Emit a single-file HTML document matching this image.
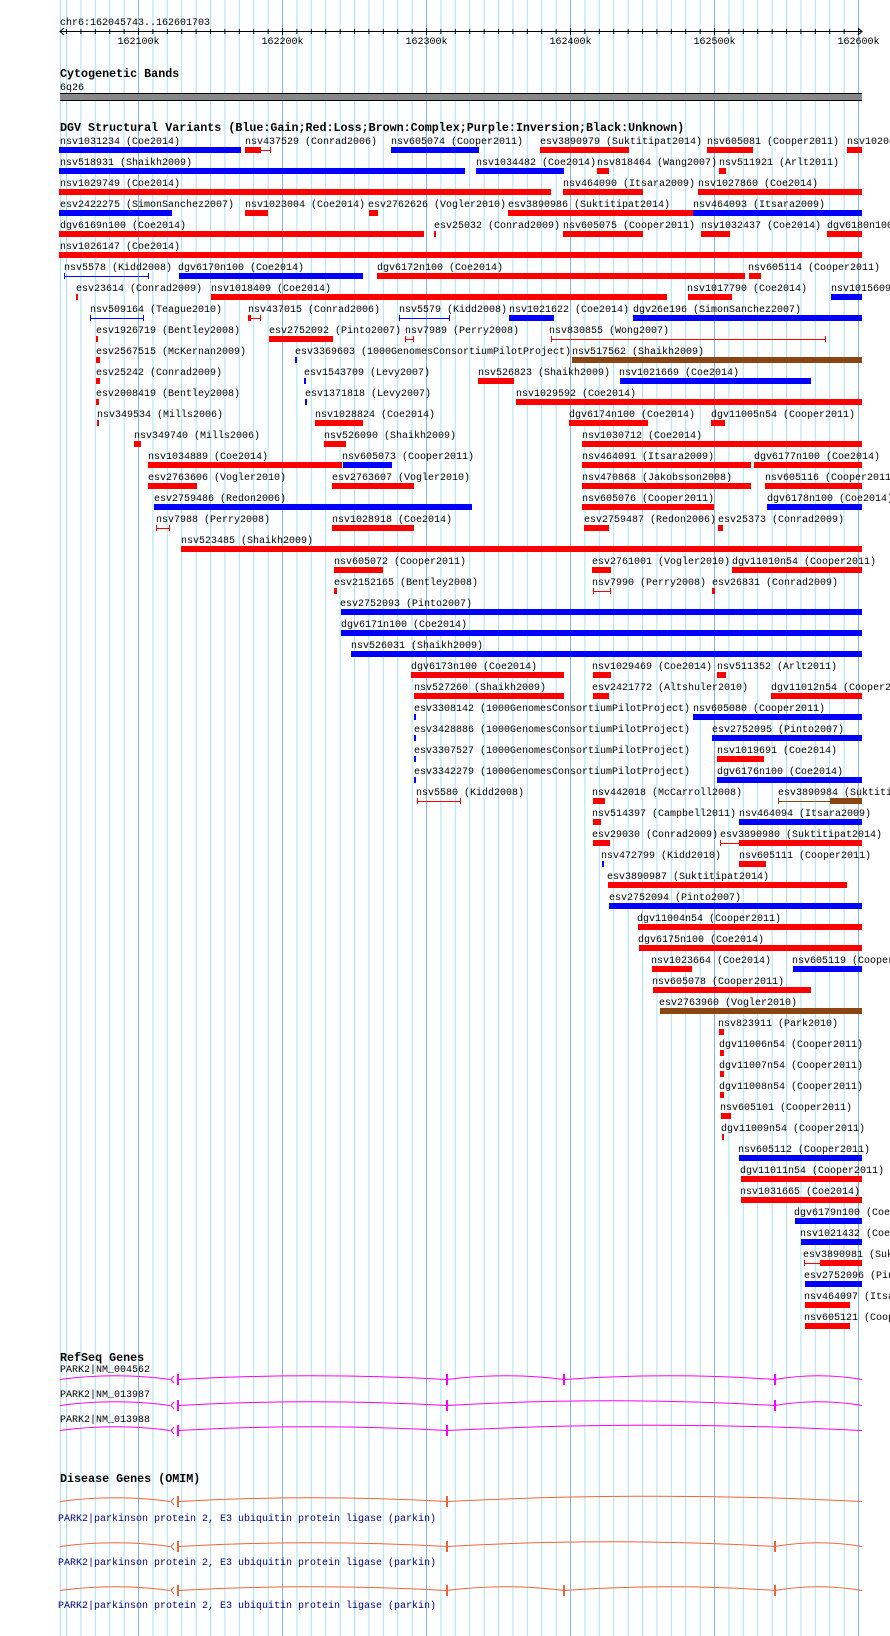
<!DOCTYPE html>
<html><head><meta charset="utf-8"><style>
html,body{margin:0;padding:0;background:#fff;}
svg{display:block;}
</style></head><body>
<svg width="890" height="1636" viewBox="0 0 890 1636" xmlns="http://www.w3.org/2000/svg">
<rect width="890" height="1636" fill="#fff"/>
<!-- grid -->
<g stroke="#a6e4ee" stroke-width="1">
<line x1="60.5" y1="0" x2="60.5" y2="1636"/>
<line x1="66.5" y1="0" x2="66.5" y2="1636"/><line x1="80.9" y1="0" x2="80.9" y2="1636"/><line x1="95.3" y1="0" x2="95.3" y2="1636"/><line x1="109.7" y1="0" x2="109.7" y2="1636"/><line x1="124.1" y1="0" x2="124.1" y2="1636"/>
<line x1="152.9" y1="0" x2="152.9" y2="1636"/><line x1="167.3" y1="0" x2="167.3" y2="1636"/><line x1="181.7" y1="0" x2="181.7" y2="1636"/><line x1="196.1" y1="0" x2="196.1" y2="1636"/><line x1="210.5" y1="0" x2="210.5" y2="1636"/><line x1="224.9" y1="0" x2="224.9" y2="1636"/><line x1="239.3" y1="0" x2="239.3" y2="1636"/><line x1="253.7" y1="0" x2="253.7" y2="1636"/><line x1="268.1" y1="0" x2="268.1" y2="1636"/>
<line x1="296.9" y1="0" x2="296.9" y2="1636"/><line x1="311.3" y1="0" x2="311.3" y2="1636"/><line x1="325.7" y1="0" x2="325.7" y2="1636"/><line x1="340.1" y1="0" x2="340.1" y2="1636"/><line x1="354.5" y1="0" x2="354.5" y2="1636"/><line x1="368.9" y1="0" x2="368.9" y2="1636"/><line x1="383.3" y1="0" x2="383.3" y2="1636"/><line x1="397.7" y1="0" x2="397.7" y2="1636"/><line x1="412.1" y1="0" x2="412.1" y2="1636"/>
<line x1="440.9" y1="0" x2="440.9" y2="1636"/><line x1="455.3" y1="0" x2="455.3" y2="1636"/><line x1="469.7" y1="0" x2="469.7" y2="1636"/><line x1="484.1" y1="0" x2="484.1" y2="1636"/><line x1="498.5" y1="0" x2="498.5" y2="1636"/><line x1="512.9" y1="0" x2="512.9" y2="1636"/><line x1="527.3" y1="0" x2="527.3" y2="1636"/><line x1="541.7" y1="0" x2="541.7" y2="1636"/><line x1="556.1" y1="0" x2="556.1" y2="1636"/>
<line x1="584.9" y1="0" x2="584.9" y2="1636"/><line x1="599.3" y1="0" x2="599.3" y2="1636"/><line x1="613.7" y1="0" x2="613.7" y2="1636"/><line x1="628.1" y1="0" x2="628.1" y2="1636"/><line x1="642.5" y1="0" x2="642.5" y2="1636"/><line x1="656.9" y1="0" x2="656.9" y2="1636"/><line x1="671.3" y1="0" x2="671.3" y2="1636"/><line x1="685.7" y1="0" x2="685.7" y2="1636"/><line x1="700.1" y1="0" x2="700.1" y2="1636"/>
<line x1="728.9" y1="0" x2="728.9" y2="1636"/><line x1="743.3" y1="0" x2="743.3" y2="1636"/><line x1="757.7" y1="0" x2="757.7" y2="1636"/><line x1="772.1" y1="0" x2="772.1" y2="1636"/><line x1="786.5" y1="0" x2="786.5" y2="1636"/><line x1="800.9" y1="0" x2="800.9" y2="1636"/><line x1="815.3" y1="0" x2="815.3" y2="1636"/><line x1="829.7" y1="0" x2="829.7" y2="1636"/><line x1="844.1" y1="0" x2="844.1" y2="1636"/>
</g>
<g stroke="#7fb6e6" stroke-width="1">
<line x1="138.5" y1="0" x2="138.5" y2="1636"/><line x1="282.5" y1="0" x2="282.5" y2="1636"/><line x1="426.5" y1="0" x2="426.5" y2="1636"/><line x1="570.5" y1="0" x2="570.5" y2="1636"/><line x1="714.5" y1="0" x2="714.5" y2="1636"/><line x1="858.5" y1="0" x2="858.5" y2="1636"/>
</g>

<!-- ruler -->
<g font-family="Liberation Mono, monospace" font-size="10" fill="#000">
<text x="60" y="25">chr6:162045743..162601703</text>
<line x1="60" y1="31.5" x2="862" y2="31.5" stroke="#000"/>
<polyline points="64,28 60,31.5 64,35" fill="none" stroke="#000"/>
<polyline points="858,28 862,31.5 858,35" fill="none" stroke="#000"/>
<g stroke="#000">
<line x1="66.5" y1="29" x2="66.5" y2="34"/><line x1="80.9" y1="29" x2="80.9" y2="34"/><line x1="95.3" y1="29" x2="95.3" y2="34"/><line x1="109.7" y1="29" x2="109.7" y2="34"/><line x1="124.1" y1="29" x2="124.1" y2="34"/><line x1="138.5" y1="28" x2="138.5" y2="35"/>
<line x1="152.9" y1="29" x2="152.9" y2="34"/><line x1="167.3" y1="29" x2="167.3" y2="34"/><line x1="181.7" y1="29" x2="181.7" y2="34"/><line x1="196.1" y1="29" x2="196.1" y2="34"/><line x1="210.5" y1="29" x2="210.5" y2="34"/><line x1="224.9" y1="29" x2="224.9" y2="34"/><line x1="239.3" y1="29" x2="239.3" y2="34"/><line x1="253.7" y1="29" x2="253.7" y2="34"/><line x1="268.1" y1="29" x2="268.1" y2="34"/><line x1="282.5" y1="28" x2="282.5" y2="35"/>
<line x1="296.9" y1="29" x2="296.9" y2="34"/><line x1="311.3" y1="29" x2="311.3" y2="34"/><line x1="325.7" y1="29" x2="325.7" y2="34"/><line x1="340.1" y1="29" x2="340.1" y2="34"/><line x1="354.5" y1="29" x2="354.5" y2="34"/><line x1="368.9" y1="29" x2="368.9" y2="34"/><line x1="383.3" y1="29" x2="383.3" y2="34"/><line x1="397.7" y1="29" x2="397.7" y2="34"/><line x1="412.1" y1="29" x2="412.1" y2="34"/><line x1="426.5" y1="28" x2="426.5" y2="35"/>
<line x1="440.9" y1="29" x2="440.9" y2="34"/><line x1="455.3" y1="29" x2="455.3" y2="34"/><line x1="469.7" y1="29" x2="469.7" y2="34"/><line x1="484.1" y1="29" x2="484.1" y2="34"/><line x1="498.5" y1="29" x2="498.5" y2="34"/><line x1="512.9" y1="29" x2="512.9" y2="34"/><line x1="527.3" y1="29" x2="527.3" y2="34"/><line x1="541.7" y1="29" x2="541.7" y2="34"/><line x1="556.1" y1="29" x2="556.1" y2="34"/><line x1="570.5" y1="28" x2="570.5" y2="35"/>
<line x1="584.9" y1="29" x2="584.9" y2="34"/><line x1="599.3" y1="29" x2="599.3" y2="34"/><line x1="613.7" y1="29" x2="613.7" y2="34"/><line x1="628.1" y1="29" x2="628.1" y2="34"/><line x1="642.5" y1="29" x2="642.5" y2="34"/><line x1="656.9" y1="29" x2="656.9" y2="34"/><line x1="671.3" y1="29" x2="671.3" y2="34"/><line x1="685.7" y1="29" x2="685.7" y2="34"/><line x1="700.1" y1="29" x2="700.1" y2="34"/><line x1="714.5" y1="28" x2="714.5" y2="35"/>
<line x1="728.9" y1="29" x2="728.9" y2="34"/><line x1="743.3" y1="29" x2="743.3" y2="34"/><line x1="757.7" y1="29" x2="757.7" y2="34"/><line x1="772.1" y1="29" x2="772.1" y2="34"/><line x1="786.5" y1="29" x2="786.5" y2="34"/><line x1="800.9" y1="29" x2="800.9" y2="34"/><line x1="815.3" y1="29" x2="815.3" y2="34"/><line x1="829.7" y1="29" x2="829.7" y2="34"/><line x1="844.1" y1="29" x2="844.1" y2="34"/><line x1="858.5" y1="28" x2="858.5" y2="35"/>
</g>
<text x="138.5" y="44" text-anchor="middle">162100k</text>
<text x="282.5" y="44" text-anchor="middle">162200k</text>
<text x="426.5" y="44" text-anchor="middle">162300k</text>
<text x="570.5" y="44" text-anchor="middle">162400k</text>
<text x="714.5" y="44" text-anchor="middle">162500k</text>
<text x="858.5" y="44" text-anchor="middle">162600k</text>
</g>

<!-- cytoband -->
<g font-family="Liberation Mono, monospace" font-weight="bold" font-size="11.7" fill="#000">
<text x="60" y="77">Cytogenetic Bands</text>
<text x="60" y="131">DGV Structural Variants (Blue:Gain;Red:Loss;Brown:Complex;Purple:Inversion;Black:Unknown)</text>
<text x="60" y="1361">RefSeq Genes</text>
<text x="60" y="1482">Disease Genes (OMIM)</text>
</g>
<text x="60" y="90" font-family="Liberation Mono, monospace" font-size="10">6q26</text>
<rect x="60" y="93" width="802" height="8" fill="#000"/>
<rect x="60" y="94" width="802" height="6" fill="#888"/>

<!-- SV labels -->
<g font-family="Liberation Mono, monospace" font-size="10" fill="#000">
<text x="60" y="144">nsv1031234 (Coe2014)</text><text x="245" y="144">nsv437529 (Conrad2006)</text><text x="391" y="144">nsv605074 (Cooper2011)</text><text x="540" y="144">esv3890979 (Suktitipat2014)</text><text x="707" y="144">nsv605081 (Cooper2011)</text><text x="847" y="144">nsv1020839 (Coe2014)</text>
<text x="60" y="165">nsv518931 (Shaikh2009)</text><text x="476" y="165">nsv1034482 (Coe2014)</text><text x="597" y="165">nsv818464 (Wang2007)</text><text x="719" y="165">nsv511921 (Arlt2011)</text>
<text x="60" y="186">nsv1029749 (Coe2014)</text><text x="563" y="186">nsv464090 (Itsara2009)</text><text x="698" y="186">nsv1027860 (Coe2014)</text>
<text x="60" y="207">esv2422275 (SimonSanchez2007)</text><text x="245" y="207">nsv1023004 (Coe2014)</text><text x="368" y="207">esv2762626 (Vogler2010)</text><text x="508" y="207">esv3890986 (Suktitipat2014)</text><text x="693" y="207">nsv464093 (Itsara2009)</text>
<text x="60" y="228">dgv6169n100 (Coe2014)</text><text x="434" y="228">esv25032 (Conrad2009)</text><text x="563" y="228">nsv605075 (Cooper2011)</text><text x="701" y="228">nsv1032437 (Coe2014)</text><text x="827" y="228">dgv6180n100 (Coe2014)</text>
<text x="60" y="249">nsv1026147 (Coe2014)</text>
<text x="64" y="270">nsv5578 (Kidd2008)</text><text x="178" y="270">dgv6170n100 (Coe2014)</text><text x="377" y="270">dgv6172n100 (Coe2014)</text><text x="748" y="270">nsv605114 (Cooper2011)</text>
<text x="76" y="291">esv23614 (Conrad2009)</text><text x="211" y="291">nsv1018409 (Coe2014)</text><text x="687" y="291">nsv1017790 (Coe2014)</text><text x="831" y="291">nsv1015609 (Coe2014)</text>
<text x="90" y="312">nsv509164 (Teague2010)</text><text x="248" y="312">nsv437015 (Conrad2006)</text><text x="399" y="312">nsv5579 (Kidd2008)</text><text x="509" y="312">nsv1021622 (Coe2014)</text><text x="633" y="312">dgv26e196 (SimonSanchez2007)</text>
<text x="96" y="333">esv1926719 (Bentley2008)</text><text x="269" y="333">esv2752092 (Pinto2007)</text><text x="405" y="333">nsv7989 (Perry2008)</text><text x="549" y="333">nsv830855 (Wong2007)</text>
<text x="96" y="354">esv2567515 (McKernan2009)</text><text x="295" y="354">esv3369603 (1000GenomesConsortiumPilotProject)</text><text x="572" y="354">nsv517562 (Shaikh2009)</text>
<text x="96" y="375">esv25242 (Conrad2009)</text><text x="304" y="375">esv1543709 (Levy2007)</text><text x="478" y="375">nsv526823 (Shaikh2009)</text><text x="619" y="375">nsv1021669 (Coe2014)</text>
<text x="96" y="396">esv2008419 (Bentley2008)</text><text x="305" y="396">esv1371818 (Levy2007)</text><text x="516" y="396">nsv1029592 (Coe2014)</text>
<text x="97" y="417">nsv349534 (Mills2006)</text><text x="315" y="417">nsv1028824 (Coe2014)</text><text x="569" y="417">dgv6174n100 (Coe2014)</text><text x="711" y="417">dgv11005n54 (Cooper2011)</text>
<text x="134" y="438">nsv349740 (Mills2006)</text><text x="324" y="438">nsv526090 (Shaikh2009)</text><text x="582" y="438">nsv1030712 (Coe2014)</text>
<text x="148" y="459">nsv1034889 (Coe2014)</text><text x="342" y="459">nsv605073 (Cooper2011)</text><text x="582" y="459">nsv464091 (Itsara2009)</text><text x="754" y="459">dgv6177n100 (Coe2014)</text>
<text x="148" y="480">esv2763606 (Vogler2010)</text><text x="332" y="480">esv2763607 (Vogler2010)</text><text x="582" y="480">nsv470868 (Jakobsson2008)</text><text x="765" y="480">nsv605116 (Cooper2011)</text>
<text x="154" y="501">esv2759486 (Redon2006)</text><text x="582" y="501">nsv605076 (Cooper2011)</text><text x="767" y="501">dgv6178n100 (Coe2014)</text>
<text x="156" y="522">nsv7988 (Perry2008)</text><text x="332" y="522">nsv1028918 (Coe2014)</text><text x="584" y="522">esv2759487 (Redon2006)</text><text x="718" y="522">esv25373 (Conrad2009)</text>
<text x="181" y="543">nsv523485 (Shaikh2009)</text>
<text x="334" y="564">nsv605072 (Cooper2011)</text><text x="592" y="564">esv2761001 (Vogler2010)</text><text x="732" y="564">dgv11010n54 (Cooper2011)</text>
<text x="334" y="585">esv2152165 (Bentley2008)</text><text x="592" y="585">nsv7990 (Perry2008)</text><text x="712" y="585">esv26831 (Conrad2009)</text>
<text x="340" y="606">esv2752093 (Pinto2007)</text>
<text x="341" y="627">dgv6171n100 (Coe2014)</text>
<text x="351" y="648">nsv526031 (Shaikh2009)</text>
<text x="411" y="669">dgv6173n100 (Coe2014)</text><text x="592" y="669">nsv1029469 (Coe2014)</text><text x="717" y="669">nsv511352 (Arlt2011)</text>
<text x="414" y="690">nsv527260 (Shaikh2009)</text><text x="592" y="690">esv2421772 (Altshuler2010)</text><text x="771" y="690">dgv11012n54 (Cooper2011)</text>
<text x="414" y="711">esv3308142 (1000GenomesConsortiumPilotProject)</text><text x="693" y="711">nsv605080 (Cooper2011)</text>
<text x="414" y="732">esv3428886 (1000GenomesConsortiumPilotProject)</text><text x="712" y="732">esv2752095 (Pinto2007)</text>
<text x="414" y="753">esv3307527 (1000GenomesConsortiumPilotProject)</text><text x="717" y="753">nsv1019691 (Coe2014)</text>
<text x="414" y="774">esv3342279 (1000GenomesConsortiumPilotProject)</text><text x="717" y="774">dgv6176n100 (Coe2014)</text>
<text x="416" y="795">nsv5580 (Kidd2008)</text><text x="592" y="795">nsv442018 (McCarroll2008)</text><text x="778" y="795">esv3890984 (Suktitipat2014)</text>
<text x="592" y="816">nsv514397 (Campbell2011)</text><text x="739" y="816">nsv464094 (Itsara2009)</text>
<text x="592" y="837">esv29030 (Conrad2009)</text><text x="720" y="837">esv3890980 (Suktitipat2014)</text>
<text x="601" y="858">nsv472799 (Kidd2010)</text><text x="739" y="858">nsv605111 (Cooper2011)</text>
<text x="607" y="879">esv3890987 (Suktitipat2014)</text>
<text x="609" y="900">esv2752094 (Pinto2007)</text>
<text x="637" y="921">dgv11004n54 (Cooper2011)</text>
<text x="638" y="942">dgv6175n100 (Coe2014)</text>
<text x="651" y="963">nsv1023664 (Coe2014)</text><text x="792" y="963">nsv605119 (Cooper2011)</text>
<text x="652" y="984">nsv605078 (Cooper2011)</text>
<text x="659" y="1005">esv2763960 (Vogler2010)</text>
<text x="718" y="1026">nsv823911 (Park2010)</text>
<text x="719" y="1047">dgv11006n54 (Cooper2011)</text>
<text x="719" y="1068">dgv11007n54 (Cooper2011)</text>
<text x="719" y="1089">dgv11008n54 (Cooper2011)</text>
<text x="720" y="1110">nsv605101 (Cooper2011)</text>
<text x="721" y="1131">dgv11009n54 (Cooper2011)</text>
<text x="738" y="1152">nsv605112 (Cooper2011)</text>
<text x="740" y="1173">dgv11011n54 (Cooper2011)</text>
<text x="740" y="1194">nsv1031665 (Coe2014)</text>
<text x="794" y="1215">dgv6179n100 (Coe2014)</text>
<text x="800" y="1236">nsv1021432 (Coe2014)</text>
<text x="803" y="1257">esv3890981 (Suktitipat2014)</text>
<text x="804" y="1278">esv2752096 (Pinto2007)</text>
<text x="804" y="1299">nsv464097 (Itsara2009)</text>
<text x="804" y="1320">nsv605121 (Cooper2011)</text>
</g>

<!-- SV bars: blue -->
<g fill="#0000ff">
<rect x="59" y="147" width="182" height="6"/><rect x="391" y="147" width="88" height="6"/>
<rect x="59" y="168" width="406" height="6"/><rect x="476" y="168" width="88" height="6"/>
<rect x="59" y="210" width="113" height="6"/><rect x="693" y="210" width="169" height="6"/>
<rect x="179" y="273" width="184" height="6"/>
<rect x="831" y="294" width="31" height="6"/>
<rect x="509" y="315" width="45" height="6"/><rect x="633" y="315" width="229" height="6"/>
<rect x="295" y="357" width="2" height="6"/>
<rect x="304" y="378" width="2" height="6"/><rect x="620" y="378" width="191" height="6"/>
<rect x="305" y="399" width="2" height="6"/>
<rect x="343" y="462" width="49" height="6"/>
<rect x="154" y="504" width="318" height="6"/><rect x="767" y="504" width="95" height="6"/>
<rect x="341" y="609" width="521" height="6"/>
<rect x="341" y="630" width="521" height="6"/>
<rect x="351" y="651" width="511" height="6"/>
<rect x="414" y="714" width="2" height="6"/><rect x="693" y="714" width="169" height="6"/>
<rect x="414" y="735" width="2" height="6"/><rect x="712" y="735" width="150" height="6"/>
<rect x="414" y="756" width="2" height="6"/>
<rect x="414" y="777" width="2" height="6"/><rect x="717" y="777" width="145" height="6"/>
<rect x="739" y="819" width="123" height="6"/>
<rect x="602" y="861" width="2" height="6"/>
<rect x="609" y="903" width="253" height="6"/>
<rect x="793" y="966" width="69" height="6"/>
<rect x="739" y="1155" width="123" height="6"/>
<rect x="795" y="1218" width="67" height="6"/>
<rect x="801" y="1239" width="61" height="6"/>
<rect x="805" y="1281" width="57" height="6"/>
</g>
<!-- blue whiskers -->
<g stroke="#0000ff" stroke-width="1" fill="none">
<path d="M64 276.5H149M64.5 273v6M148.5 273v6"/>
<path d="M90 318.5H144M90.5 315v6M143.5 315v6"/>
<path d="M399 318.5H450M399.5 315v6M449.5 315v6"/>
</g>
<!-- red bars -->
<g fill="#ff0000">
<rect x="245" y="147" width="16" height="6"/><rect x="540" y="147" width="89" height="6"/><rect x="707" y="147" width="46" height="6"/><rect x="847" y="147" width="15" height="6"/>
<rect x="597" y="168" width="12" height="6"/><rect x="719" y="168" width="7" height="6"/>
<rect x="59" y="189" width="492" height="6"/><rect x="563" y="189" width="80" height="6"/><rect x="698" y="189" width="164" height="6"/>
<rect x="245" y="210" width="23" height="6"/><rect x="369" y="210" width="9" height="6"/><rect x="508" y="210" width="185" height="6"/>
<rect x="59" y="231" width="365" height="6"/><rect x="434" y="231" width="2" height="6"/><rect x="563" y="231" width="80" height="6"/><rect x="701" y="231" width="29" height="6"/><rect x="827" y="231" width="35" height="6"/>
<rect x="59" y="252" width="803" height="6"/>
<rect x="377" y="273" width="368" height="6"/><rect x="749" y="273" width="12" height="6"/>
<rect x="76" y="294" width="2" height="6"/><rect x="211" y="294" width="456" height="6"/><rect x="688" y="294" width="44" height="6"/>
<rect x="248" y="315" width="3" height="6"/>
<rect x="96" y="336" width="2" height="6"/><rect x="269" y="336" width="64" height="6"/>
<rect x="96" y="357" width="4" height="6"/><rect x="96" y="378" width="4" height="6"/><rect x="478" y="378" width="36" height="6"/>
<rect x="96" y="399" width="3" height="6"/><rect x="516" y="399" width="346" height="6"/>
<rect x="97" y="420" width="2" height="6"/><rect x="315" y="420" width="48" height="6"/><rect x="569" y="420" width="79" height="6"/><rect x="711" y="420" width="14" height="6"/>
<rect x="134" y="441" width="7" height="6"/><rect x="324" y="441" width="22" height="6"/><rect x="582" y="441" width="280" height="6"/>
<rect x="148" y="462" width="194" height="6"/><rect x="582" y="462" width="169" height="6"/><rect x="754" y="462" width="108" height="6"/>
<rect x="148" y="483" width="49" height="6"/><rect x="332" y="483" width="82" height="6"/><rect x="582" y="483" width="169" height="6"/><rect x="765" y="483" width="97" height="6"/>
<rect x="582" y="504" width="132" height="6"/>
<rect x="332" y="525" width="82" height="6"/><rect x="584" y="525" width="25" height="6"/><rect x="718" y="525" width="5" height="6"/>
<rect x="181" y="546" width="681" height="6"/>
<rect x="334" y="567" width="49" height="6"/><rect x="592" y="567" width="19" height="6"/><rect x="732" y="567" width="130" height="6"/>
<rect x="334" y="588" width="3" height="6"/><rect x="712" y="588" width="3" height="6"/>
<rect x="411" y="672" width="153" height="6"/><rect x="593" y="672" width="18" height="6"/><rect x="717" y="672" width="9" height="6"/>
<rect x="414" y="693" width="150" height="6"/><rect x="593" y="693" width="16" height="6"/><rect x="771" y="693" width="91" height="6"/>
<rect x="717" y="756" width="47" height="6"/>
<rect x="593" y="798" width="12" height="6"/>
<rect x="593" y="819" width="8" height="6"/>
<rect x="593" y="840" width="17" height="6"/><rect x="739" y="840" width="123" height="6"/>
<rect x="739" y="861" width="27" height="6"/>
<rect x="608" y="882" width="239" height="6"/>
<rect x="638" y="924" width="224" height="6"/>
<rect x="639" y="945" width="223" height="6"/>
<rect x="652" y="966" width="40" height="6"/>
<rect x="653" y="987" width="158" height="6"/>
<rect x="719" y="1029" width="5" height="6"/>
<rect x="720" y="1050" width="4" height="6"/>
<rect x="720" y="1071" width="4" height="6"/>
<rect x="720" y="1092" width="4" height="6"/>
<rect x="721" y="1113" width="10" height="6"/>
<rect x="722" y="1134" width="2" height="6"/>
<rect x="741" y="1176" width="121" height="6"/>
<rect x="741" y="1197" width="121" height="6"/>
<rect x="820" y="1260" width="42" height="6"/>
<rect x="805" y="1302" width="45" height="6"/>
<rect x="805" y="1323" width="45" height="6"/>
</g>
<!-- red whiskers -->
<g stroke="#ff0000" stroke-width="1" fill="none">
<path d="M261 150.5H271M270.5 147v6"/>
<path d="M251 318.5H261M260.5 315v6"/>
<path d="M405 339.5H414M405.5 336v6M413.5 336v6"/>
<path d="M551 339.5H826M551.5 336v6M825.5 336v6"/>
<path d="M156 528.5H170M156.5 525v6M169.5 525v6"/>
<path d="M593 591.5H611M593.5 588v6M610.5 588v6"/>
<path d="M417 801.5H461M417.5 798v6M460.5 798v6"/>
<path d="M720 843.5H739M720.5 840v6"/>
<path d="M804 1263.5H820M804.5 1260v6"/>
</g>
<!-- brown -->
<g fill="#8b4513">
<rect x="572" y="357" width="290" height="6"/>
<rect x="830" y="798" width="32" height="6"/>
<rect x="660" y="1008" width="202" height="6"/>
</g>
<path d="M778 801.5H830M778.5 798v6" stroke="#8b4513" fill="none"/>

<!-- RefSeq genes -->
<g font-family="Liberation Mono, monospace" font-size="10" fill="#000">
<text x="60" y="1372">PARK2|NM_004562</text>
<text x="60" y="1397">PARK2|NM_013987</text>
<text x="60" y="1422">PARK2|NM_013988</text>
</g>
<g fill="none" stroke="#ff00ff" stroke-width="1">
<path d="M60 1379.5Q115 1372 170 1379.5M178 1379.5Q312 1372 447 1379.5Q505 1372 564 1379.5Q670 1372 775 1379.5Q818 1372 862 1379.5"/>
<path d="M60 1405.5Q115 1398 170 1405.5M178 1405.5Q312 1398 447 1405.5Q611 1396 775 1405.5Q818 1398 862 1405.5"/>
<path d="M60 1430.5Q115 1423 170 1430.5M178 1430.5Q312 1423 447 1430.5Q654 1420 862 1430.5"/>
<polyline points="174,1376 171,1379.5 174,1383"/><polyline points="174,1402 171,1405.5 174,1409"/><polyline points="174,1427 171,1430.5 174,1434"/>
</g>
<g fill="#ff00ff">
<rect x="177" y="1374" width="2" height="11"/><rect x="446" y="1374" width="2" height="11"/><rect x="563" y="1374" width="2" height="11"/><rect x="774" y="1374" width="2" height="11"/>
<rect x="177" y="1400" width="2" height="11"/><rect x="446" y="1400" width="2" height="11"/><rect x="774" y="1400" width="2" height="11"/>
<rect x="177" y="1425" width="2" height="11"/><rect x="446" y="1425" width="2" height="11"/>
</g>

<!-- OMIM -->
<g fill="none" stroke="#f0643c" stroke-width="1">
<path d="M60 1501.5Q115 1494 170 1501.5M178 1501.5Q312 1494 447 1501.5Q654 1491 862 1501.5"/>
<path d="M60 1546.5Q115 1539 170 1546.5M178 1546.5Q312 1539 447 1546.5Q611 1537 775 1546.5Q818 1539 862 1546.5"/>
<path d="M60 1590.5Q115 1583 170 1590.5M178 1590.5Q312 1583 447 1590.5Q505 1583 564 1590.5Q670 1583 775 1590.5Q818 1583 862 1590.5"/>
<polyline points="174,1498 171,1501.5 174,1505"/><polyline points="174,1543 171,1546.5 174,1550"/><polyline points="174,1587 171,1590.5 174,1594"/>
</g>
<g fill="#f0643c">
<rect x="177" y="1496" width="2" height="11"/><rect x="446" y="1496" width="2" height="11"/>
<rect x="177" y="1541" width="2" height="11"/><rect x="446" y="1541" width="2" height="11"/><rect x="774" y="1541" width="2" height="11"/>
<rect x="177" y="1585" width="2" height="11"/><rect x="446" y="1585" width="2" height="11"/><rect x="563" y="1585" width="2" height="11"/><rect x="774" y="1585" width="2" height="11"/>
</g>
<g font-family="Liberation Mono, monospace" font-size="10" fill="#000080">
<text x="58" y="1521">PARK2|parkinson protein 2, E3 ubiquitin protein ligase (parkin)</text>
<text x="58" y="1565">PARK2|parkinson protein 2, E3 ubiquitin protein ligase (parkin)</text>
<text x="58" y="1608">PARK2|parkinson protein 2, E3 ubiquitin protein ligase (parkin)</text>
</g>
</svg>
</body></html>
